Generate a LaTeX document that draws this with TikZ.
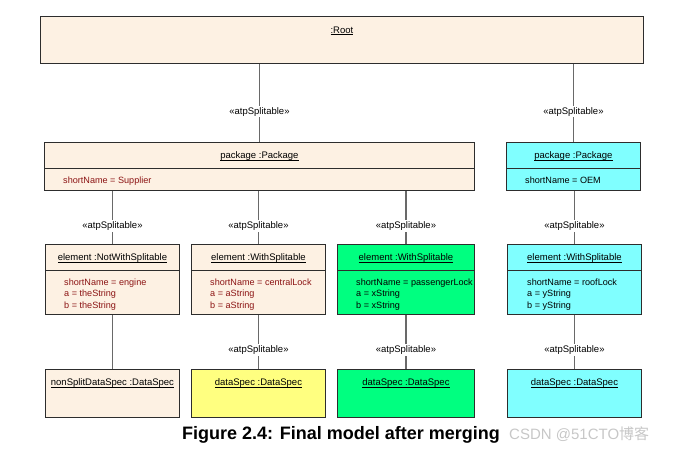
\documentclass[tikz,border=0pt]{standalone}
\usepackage{fontspec}
\setmainfont{Liberation Sans}
\newfontfamily\cjk{Noto Sans CJK SC}
\usepackage{tikz}
\usetikzlibrary{calc}
\usetikzlibrary{positioning}

\definecolor{objbeige}{RGB}{253,241,227}
\definecolor{objyellow}{RGB}{255,255,128}
\definecolor{objgreen}{RGB}{0,255,128}
\definecolor{objcyan}{RGB}{128,255,255}
\definecolor{attrred}{RGB}{140,20,20}
\definecolor{boxline}{RGB}{45,45,45}
\definecolor{linkgray}{RGB}{105,105,105}

% underlined object name
\newcommand\objname[1]{\setbox0\hbox{#1}\rlap{\rule[-1.6pt]{\wd0}{0.6pt}}\box0}

\tikzset{
    obj/.style={draw=boxline, line width=0.9pt, anchor=north west, inner sep=0pt},
    divider/.style={draw=boxline, line width=0.9pt},
    ttl/.style={font=\fontsize{9.5}{11}\selectfont, inner sep=0pt},
    attr/.style={font=\fontsize{9.1}{11}\selectfont, anchor=west, inner sep=0pt,
                 text height=7pt, text depth=2pt},
    link/.style={draw=linkgray, line width=1.3pt},
    stereo/.style={font=\fontsize{9.5}{11}\selectfont, fill=white, inner sep=1.5pt}
}

\begin{document}
\begin{tikzpicture}[x=1pt, y=-1pt]
    \useasboundingbox (0,0) rectangle (684,458);

    % root and packages
    \node[obj, fill=objbeige, minimum width=603pt, minimum height=47pt] (root) at (40,16) {};
    \node[ttl] (rootname) at ($(root.north)+(0,15)$) {\objname{:Root}};

    \node[obj, fill=objbeige, minimum width=430pt, minimum height=48pt] (pkgsup) at (44,142) {};
    \draw[divider] ($(pkgsup.north west)+(0,26.5)$) -- ($(pkgsup.north east)+(0,26.5)$);
    \node[ttl] (pkgsupname) at ($(pkgsup.north)+(0,14.5)$) {\objname{package :Package}};
    \node[attr, text=attrred] (pkgsupattr) at ($(pkgsup.north west)+(19,39)$) {shortName = Supplier};

    \node[obj, fill=objcyan, minimum width=134pt, minimum height=48pt] (pkgoem) at (506,142) {};
    \draw[divider] ($(pkgoem.north west)+(0,26.5)$) -- ($(pkgoem.north east)+(0,26.5)$);
    \node[ttl] (pkgoemname) at ($(pkgoem.north)+(0,14.5)$) {\objname{package :Package}};
    \node[attr] (pkgoemattr) at ($(pkgoem.north west)+(19,39)$) {shortName = OEM};

    % elements and data specs
    \def \elx {{45,191,337,507}}
    \def \elw {{134,134,137,134}}
    \foreach \i/\col/\dscol in {0/objbeige/objbeige,1/objbeige/objyellow,2/objgreen/objgreen,3/objcyan/objcyan}{
        \pgfmathsetmacro\left{\elx[\i]}
        \pgfmathsetmacro\width{\elw[\i]}
        \node[obj, fill=\col, minimum width=\width pt, minimum height=70.5pt] (el\i) at (\left,243.5) {};
        \draw[divider] ($(el\i.north west)+(0,26.5)$) -- ($(el\i.north east)+(0,26.5)$);
        \node[obj, fill=\dscol, minimum width=\width pt, minimum height=48pt] (ds\i) at (\left,368.5) {};
    }

    \node[ttl] (el0name) at ($(el0.north)+(0,15)$) {\objname{element :NotWithSplitable}};
    \node[attr, text=attrred] (el0a) at ($(el0.north west)+(19,39)$) {shortName = engine};
    \node[attr, text=attrred] (el0b) at ($(el0.north west)+(19,50.5)$) {a = theString};
    \node[attr, text=attrred] (el0c) at ($(el0.north west)+(19,62)$) {b = theString};

    \node[ttl] (el1name) at ($(el1.north)+(0,15)$) {\objname{element :WithSplitable}};
    \node[attr, text=attrred] (el1a) at ($(el1.north west)+(19,39)$) {shortName = centralLock};
    \node[attr, text=attrred] (el1b) at ($(el1.north west)+(19,50.5)$) {a = aString};
    \node[attr, text=attrred] (el1c) at ($(el1.north west)+(19,62)$) {b = aString};

    \node[ttl] (el2name) at ($(el2.north)+(0,15)$) {\objname{element :WithSplitable}};
    \node[attr] (el2a) at ($(el2.north west)+(19,39)$) {shortName = passengerLock};
    \node[attr] (el2b) at ($(el2.north west)+(19,50.5)$) {a = xString};
    \node[attr] (el2c) at ($(el2.north west)+(19,62)$) {b = xString};

    \node[ttl] (el3name) at ($(el3.north)+(0,15)$) {\objname{element :WithSplitable}};
    \node[attr] (el3a) at ($(el3.north west)+(20,39)$) {shortName = roofLock};
    \node[attr] (el3b) at ($(el3.north west)+(20,50.5)$) {a = yString};
    \node[attr] (el3c) at ($(el3.north west)+(20,62)$) {b = yString};

    \node[ttl] (ds0name) at ($(ds0.north)+(0,15)$) {\objname{nonSplitDataSpec :DataSpec}};
    \node[ttl] (ds1name) at ($(ds1.north)+(0,15)$) {\objname{dataSpec :DataSpec}};
    \node[ttl] (ds2name) at ($(ds2.north)+(0,15)$) {\objname{dataSpec :DataSpec}};
    \node[ttl] (ds3name) at ($(ds3.north)+(0,15)$) {\objname{dataSpec :DataSpec}};

    % connectors
    \draw[link] (pkgsup.north) -- (pkgsup.north |- root.south) node[stereo, pos=0.39] {«atpSplitable»};
    \draw[link] (pkgoem.north) -- (pkgoem.north |- root.south) node[stereo, pos=0.39] {«atpSplitable»};
    \foreach \i in {0,1,2}{
        \draw[link] (el\i.north) -- (el\i.north |- pkgsup.south) node[stereo, pos=0.33] {«atpSplitable»};
    }
    \draw[link] (el3.north) -- (el3.north |- pkgoem.south) node[stereo, pos=0.33] {«atpSplitable»};
    \draw[link] (ds0.north) -- (el0.south);
    \foreach \i in {1,2,3}{
        \draw[link] (ds\i.north) -- (el\i.south) node[stereo, pos=0.34] {«atpSplitable»};
    }

    % caption
    \node[anchor=base west, inner sep=0pt, font=\bfseries\fontsize{18}{20}\selectfont] (caption) at (182,439) {Figure 2.4: Final model after merging};
    \node[anchor=base west, inner sep=0pt, text=black!22, font=\fontsize{15}{17}\selectfont] (mark) at (509,439) {CSDN @51CTO{\cjk 博客}};
\end{tikzpicture}
\end{document}
